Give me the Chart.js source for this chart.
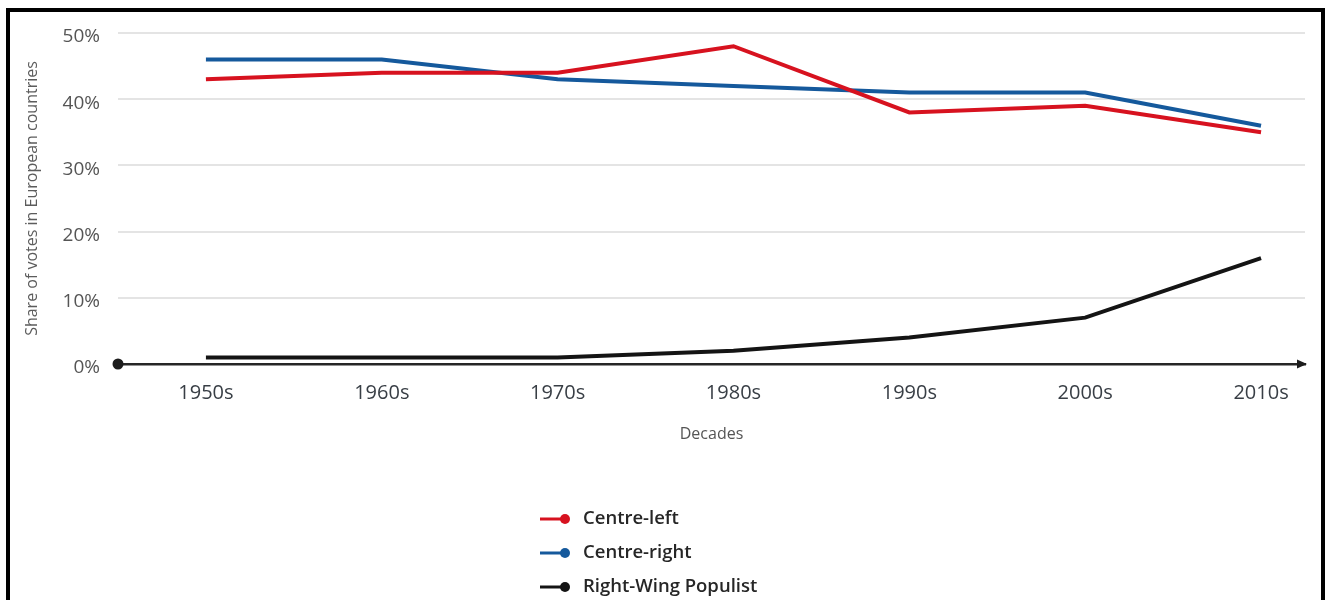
<!DOCTYPE html>
<html>
<head>
<meta charset="utf-8">
<title>Share of votes in European countries</title>
<script src="https://cdn.jsdelivr.net/npm/chart.js@4.4.1/dist/chart.umd.min.js"></script>
<style>
	html, body { margin: 0; padding: 0; background: #fff; overflow: hidden; }
	#frame { position: absolute; left: 6px; top: 8px; width: 1311px; height: 700px; border: 4px solid #000; }
	#chart { display: block; }
</style>
</head>
<body>
<div id="frame"><canvas id="chart" width="1311" height="588"></canvas></div>
<script>
	var decades = ["1950s", "1960s", "1970s", "1980s", "1990s", "2000s", "2010s"];
	var centreLeft = [43, 44, 44, 48, 38, 39, 35];
	var centreRight = [46, 46, 43, 42, 41, 41, 36];
	var populist = [1, 1, 1, 2, 4, 7, 16];
	var yTicks = [0, 10, 20, 30, 40, 50];

	var seriesNames = ["Centre-left", "Centre-right", "Right-Wing Populist"];
	var seriesColors = ["#d7121f", "#15599c", "#141414"];

	function points(values) {
		return values.map(function(v, i) {
			return { x: i, y: v };
		});
	}

	//dot at the start of the x axis and arrow head at its end
	var axisEnds = {
		id: "axisEnds",
		afterDraw: function(chart) {
			var ctx = chart.ctx;
			var area = chart.chartArea;
			var y = chart.scales.y.getPixelForValue(0);
			ctx.save();
			ctx.fillStyle = "#1c1c1c";
			ctx.beginPath();
			ctx.arc(area.left, y, 5.5, 0, Math.PI * 2);
			ctx.fill();
			ctx.beginPath();
			ctx.moveTo(area.right + 2, y);
			ctx.lineTo(area.right - 8, y - 4.5);
			ctx.lineTo(area.right - 8, y + 4.5);
			ctx.closePath();
			ctx.fill();
			ctx.restore();
		}
	};

	//vertical legend under the axis title
	var stackedLegend = {
		id: "stackedLegend",
		afterDraw: function(chart) {
			var ctx = chart.ctx;
			var left = chart.chartArea.left + 422;
			var top = 507;
			var rowGap = 34;
			ctx.save();
			ctx.font = "600 18.5px 'Open Sans'";
			ctx.textBaseline = "middle";
			chart.data.datasets.forEach(function(ds, i) {
				var y = top + i * rowGap;
				ctx.strokeStyle = ds.borderColor;
				ctx.fillStyle = ds.borderColor;
				ctx.lineWidth = 3;
				ctx.beginPath();
				ctx.moveTo(left, y);
				ctx.lineTo(left + 24, y);
				ctx.stroke();
				ctx.beginPath();
				ctx.arc(left + 25, y, 5, 0, Math.PI * 2);
				ctx.fill();
				ctx.fillStyle = "#262626";
				ctx.fillText(ds.label, left + 43, y);
			});
			ctx.restore();
		}
	};

	var datasets = [centreLeft, centreRight, populist].map(function(values, i) {
		return {
			label: seriesNames[i],
			data: points(values),
			borderColor: seriesColors[i],
			backgroundColor: seriesColors[i],
			borderWidth: 4,
			pointRadius: 0,
			tension: 0
		};
	});

	var chart = new Chart(document.getElementById("chart"), {
		type: "line",
		data: { datasets: datasets },
		plugins: [axisEnds, stackedLegend],
		options: {
			responsive: false,
			animation: false,
			layout: { padding: { top: 21, right: 16, bottom: 156, left: 0 } },
			plugins: {
				legend: { display: false },
				tooltip: { enabled: false }
			},
			scales: {
				x: {
					type: "linear",
					min: -0.5,
					max: 6.25,
					afterBuildTicks: function(scale) {
						scale.ticks = decades.map(function(d, i) { return { value: i }; });
					},
					afterFit: function(scale) { scale.height = 80; },
					grid: { display: false, drawTicks: false },
					border: { display: true, color: "#262626", width: 2.5 },
					ticks: {
						padding: 17,
						color: "#383e45",
						font: { family: "'Open Sans'", size: 20 },
						callback: function(v) { return decades[v]; }
					},
					title: {
						display: true,
						text: "Decades",
						color: "#555",
						font: { family: "'Open Sans'", size: 16 },
						padding: { top: 0, bottom: 0 }
					}
				},
				y: {
					min: 0,
					max: 50,
					afterBuildTicks: function(scale) {
						scale.ticks = yTicks.map(function(v) { return { value: v }; });
					},
					afterFit: function(scale) { scale.width = 108; },
					grid: {
						drawTicks: true,
						tickLength: 18,
						tickColor: "rgba(0,0,0,0)",
						lineWidth: 2,
						color: function(c) { return c.tick && c.tick.value === 0 ? "rgba(0,0,0,0)" : "#e4e4e4"; }
					},
					border: { display: false },
					ticks: {
						padding: 0,
						labelOffset: 4,
						color: "#555",
						font: { family: "'Open Sans'", size: 19 },
						callback: function(v) { return v + "%"; }
					},
					title: {
						display: true,
						text: "Share of votes in European countries",
						color: "#5c5c5c",
						font: { family: "'Open Sans'", size: 16 },
						padding: { top: 13, bottom: 0 }
					}
				}
			}
		}
	});
</script>
</body>
</html>
